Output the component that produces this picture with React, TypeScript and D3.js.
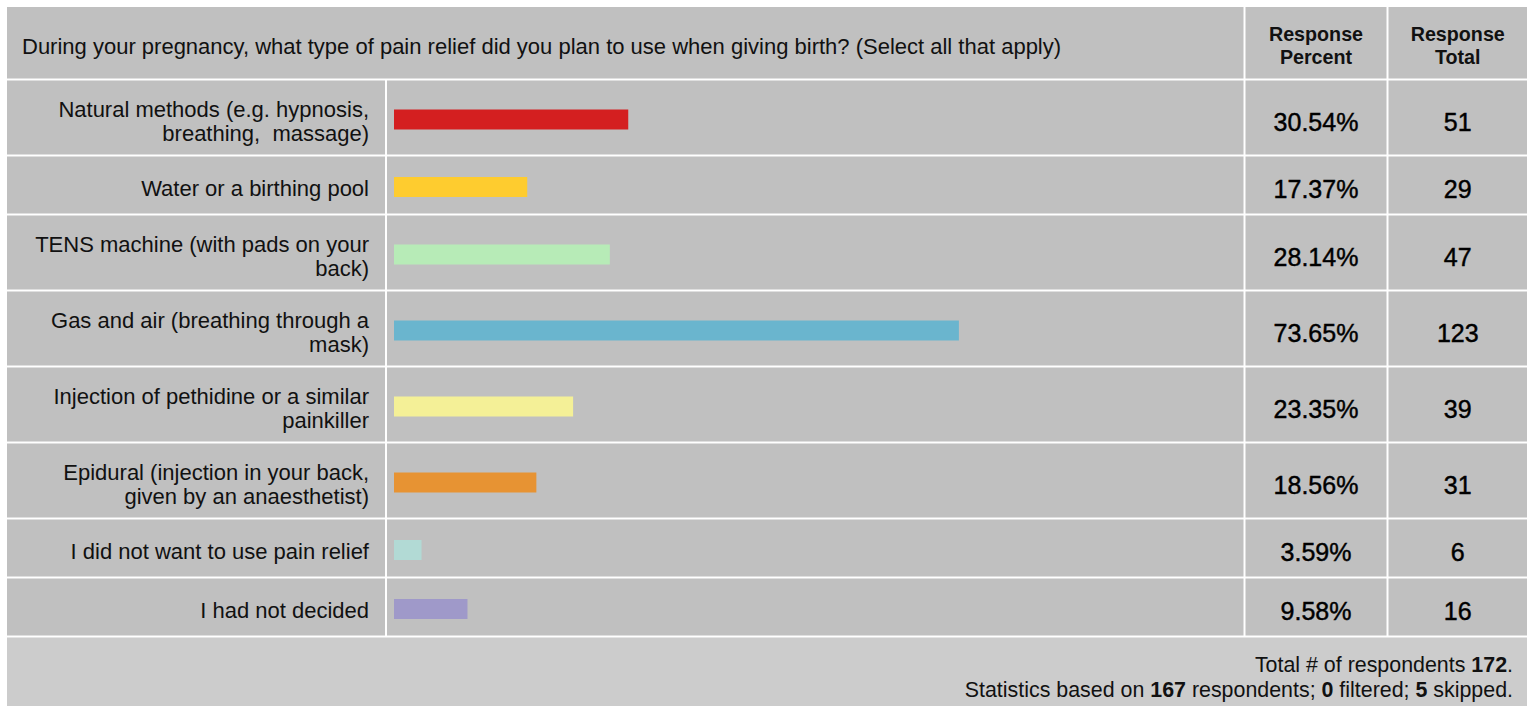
import React from "react";
import * as d3 from "d3";

const question =
  "During your pregnancy, what type of pain relief did you plan to use when giving birth? (Select all that apply)";
const categories: string[][] = [
  ["Natural methods (e.g. hypnosis,", "breathing,  massage)"],
  ["Water or a birthing pool"],
  ["TENS machine (with pads on your", "back)"],
  ["Gas and air (breathing through a", "mask)"],
  ["Injection of pethidine or a similar", "painkiller"],
  ["Epidural (injection in your back,", "given by an anaesthetist)"],
  ["I did not want to use pain relief"],
  ["I had not decided"],
];
const percents = [30.54, 17.37, 28.14, 73.65, 23.35, 18.56, 3.59, 9.58];
const totals = [51, 29, 47, 123, 39, 31, 6, 16];
const colors = ["#d41f20", "#fecc2f", "#b7ebb7", "#6ab5ce", "#f4f097", "#e79333", "#b2dad5", "#9f99c9"];
const headerCols = [["Response", "Percent"], ["Response", "Total"]];
const totalRespondents = 172;
const basedOn = 167;
const filtered = 0;
const skipped = 5;

const W = 1533;
const H = 706;
const FONT = "'Liberation Sans', Arial, Helvetica, sans-serif";

export default function App() {
  const left = 6;
  const right = 1528;
  const top = 6;
  const gap = 2;
  const colLabelEnd = 386;
  const colBarEnd = 1244.5;
  const colPctEnd = 1387.5;
  const headerH = 73.5;
  const rowHs = categories.map((c) => (c.length > 1 ? 76 : 59));
  const rowTops: number[] = [];
  let acc = top + headerH;
  rowHs.forEach((h) => {
    rowTops.push(acc);
    acc += h;
  });
  const footerTop = acc;

  const x = d3.scaleLinear().domain([0, 100]).range([394, 394 + 767]);
  const barH = 20;

  const cell = (x0: number, y0: number, x1: number, y1: number, fill = "#c0c0c0", key?: string) => (
    <rect
      key={key}
      x={x0 + gap / 2}
      y={y0 + gap / 2}
      width={x1 - x0 - gap}
      height={y1 - y0 - gap}
      fill={fill}
    />
  );

  const pctCx = (colBarEnd + colPctEnd) / 2;
  const totCx = (colPctEnd + right) / 2;

  return (
    <svg
      width={W}
      height={H}
      style={{ position: "absolute", left: 0, top: 0, background: "#fff" }}
      fontFamily={FONT}
    >
      <rect x={0} y={0} width={W} height={H} fill="#fff" />
      {/* header */}
      {cell(left, top, colBarEnd, top + headerH)}
      {cell(colBarEnd, top, colPctEnd, top + headerH)}
      {cell(colPctEnd, top, right, top + headerH)}
      <text x={22} y={54} fontSize={22} fill="#111">
        {question}
      </text>
      {headerCols.map((lines, i) => (
        <text
          key={i}
          x={i === 0 ? pctCx : totCx}
          textAnchor="middle"
          fontSize={19.7}
          fontWeight="bold"
          fill="#111"
        >
          {lines.map((l, j) => (
            <tspan key={j} x={i === 0 ? pctCx : totCx} y={41 + j * 23}>
              {l}
            </tspan>
          ))}
        </text>
      ))}
      {/* rows */}
      {categories.map((lines, i) => {
        const y0 = rowTops[i];
        const y1 = y0 + rowHs[i];
        const cy = (y0 + y1) / 2;
        const firstBase = lines.length > 1 ? cy - 1 : cy + 11;
        return (
          <g key={i}>
            {cell(left, y0, colLabelEnd, y1)}
            {cell(colLabelEnd, y0, colBarEnd, y1)}
            {cell(colBarEnd, y0, colPctEnd, y1)}
            {cell(colPctEnd, y0, right, y1)}
            <text textAnchor="end" fontSize={22} fill="#111" style={{ whiteSpace: "pre" }}>
              {lines.map((l, j) => (
                <tspan key={j} x={369} y={firstBase + j * 24}>
                  {l}
                </tspan>
              ))}
            </text>
            <rect
              x={x(0)}
              y={cy + 2 - barH / 2}
              width={x(percents[i]) - x(0)}
              height={barH}
              fill={colors[i]}
            />
            <text
              x={pctCx}
              y={cy + 13}
              textAnchor="middle"
              fontSize={25}
              fill="#000"
              stroke="#000"
              strokeWidth={0.45}
            >
              {percents[i].toFixed(2) + "%"}
            </text>
            <text
              x={totCx}
              y={cy + 13}
              textAnchor="middle"
              fontSize={25}
              fill="#000"
              stroke="#000"
              strokeWidth={0.45}
            >
              {totals[i]}
            </text>
          </g>
        );
      })}
      {/* footer */}
      {cell(left, footerTop, right, H + 10, "#cccccc")}
      <text x={1513} y={672} textAnchor="end" fontSize={21.4} fill="#111">
        {"Total # of respondents "}
        <tspan fontWeight="bold">{totalRespondents}</tspan>
        {"."}
      </text>
      <text x={1513} y={697} textAnchor="end" fontSize={21.4} fill="#111">
        {"Statistics based on "}
        <tspan fontWeight="bold">{basedOn}</tspan>
        {" respondents; "}
        <tspan fontWeight="bold">{filtered}</tspan>
        {" filtered; "}
        <tspan fontWeight="bold">{skipped}</tspan>
        {" skipped."}
      </text>
    </svg>
  );
}
